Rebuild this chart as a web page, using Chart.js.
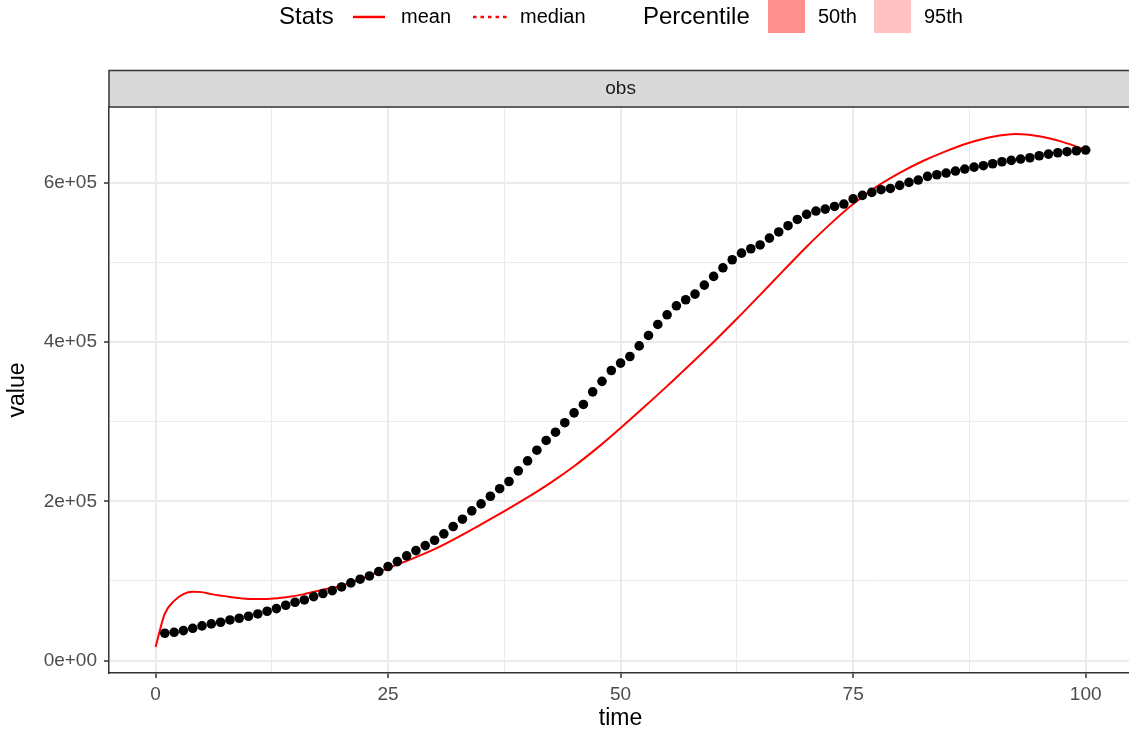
<!DOCTYPE html>
<html>
<head>
<meta charset="utf-8">
<title>obs</title>
<script src="https://cdn.jsdelivr.net/npm/chart.js@4.4.0/dist/chart.umd.min.js"></script>
<style>
  html, body { margin: 0; padding: 0; background: #ffffff; overflow: hidden; }
  #wrap { width: 1129px; height: 733px; overflow: hidden; }
  canvas { display: block; }
</style>
</head>
<body>
<div id="wrap"><canvas id="simChart" width="1137" height="733"></canvas></div>
<script>
// observed values, one per time step
const obsTime = [
  1, 2, 3, 4, 5, 6, 7, 8, 9, 10, 11, 12, 13, 14, 15, 16, 17, 18, 19, 20,
  21, 22, 23, 24, 25, 26, 27, 28, 29, 30, 31, 32, 33, 34, 35, 36, 37, 38, 39, 40,
  41, 42, 43, 44, 45, 46, 47, 48, 49, 50, 51, 52, 53, 54, 55, 56, 57, 58, 59, 60,
  61, 62, 63, 64, 65, 66, 67, 68, 69, 70, 71, 72, 73, 74, 75, 76, 77, 78, 79, 80,
  81, 82, 83, 84, 85, 86, 87, 88, 89, 90, 91, 92, 93, 94, 95, 96, 97, 98, 99, 100
];
const obsValue = [
  34400, 35600, 37700, 40600, 43600, 46100, 48200, 51100, 53200, 55700,
  58600, 62000, 65300, 69500, 73300, 76200, 80400, 84200, 87900, 92500,
  97600, 102200, 106300, 111800, 118100, 124300, 131500, 138100, 144400, 151100,
  159100, 168300, 177500, 188000, 196700, 206300, 215800, 224800, 238200, 250700,
  264100, 276300, 286700, 298600, 311000, 321500, 337300, 350500, 364100, 373400,
  381700, 395000, 408100, 421900, 434000, 445300, 452900, 460000, 471300, 482200,
  493000, 503100, 511400, 516900, 521700, 530300, 538000, 545800, 553700, 560000,
  564200, 566700, 570000, 573000, 579500, 583900, 587600, 591000, 592600, 596400,
  600200, 603100, 607700, 609800, 611900, 614400, 616900, 619400, 621100, 623600,
  626100, 627800, 629500, 631100, 633600, 635700, 637400, 638700, 639900, 640800
];

// simulated mean
const meanTime = [0, 1, 2, 3, 4, 5, 6, 8, 10, 12, 14, 16, 18, 20, 25, 30, 35,
  40, 42.5, 45, 47.5, 50, 52.5, 55, 57.5, 60, 62.5, 65, 67.5, 70, 72.5, 75, 77.5,
  80, 82.5, 85, 87.5, 90, 92.5, 95, 97.5, 100];
const meanValue = [17000, 59000, 75000, 83500, 86500, 86000, 83500, 80000, 77500, 77300,
  79600, 83500, 89000, 94000, 116000, 140000, 171000,
  205000, 223500, 244000, 267000, 292000, 318000, 344500, 372000, 400000, 429000,
  459000, 489500, 519500, 547500, 573000, 594500,
  612000, 627000, 639500, 650000, 657500, 661000, 658000, 651000, 641000];

// axis breaks
const xMajor = [0, 25, 50, 75, 100];
const xMinor = [12.5, 37.5, 62.5, 87.5];
const xTickLabels = ['0', '25', '50', '75', '100'];
const yMajor = [0, 200000, 400000, 600000];
const yMinor = [100000, 300000, 500000];
const yTickLabels = ['0e+00', '2e+05', '4e+05', '6e+05'];

const FONT = '"Liberation Sans", Arial, Helvetica, sans-serif';
const INK = '#333333';

function breaks(major, minor) {
  return major.concat(minor).sort((a, b) => a - b).map(v => ({ value: v }));
}

function tickLabel(major, labels) {
  return function (value) {
    const i = major.indexOf(value);
    return i >= 0 ? labels[i] : '';
  };
}

// grey facet strip above the panel plus the legend row at the top
const stripAndLegend = {
  id: 'stripAndLegend',
  afterDraw(chart) {
    const ctx = chart.ctx;
    const area = chart.chartArea;
    ctx.save();

    // strip
    ctx.fillStyle = '#D9D9D9';
    ctx.fillRect(area.left, 70, area.right - area.left, area.top - 70);
    ctx.strokeStyle = INK;
    ctx.lineWidth = 1.5;
    ctx.strokeRect(area.left, 70.5, area.right - area.left, area.top - 70.5);
    ctx.fillStyle = '#1A1A1A';
    ctx.font = '19px ' + FONT;
    ctx.textAlign = 'center';
    ctx.textBaseline = 'middle';
    ctx.fillText('obs', (area.left + area.right) / 2, 89);

    // legend
    const cy = 17;
    ctx.textAlign = 'left';
    ctx.fillStyle = '#000000';
    ctx.font = '24px ' + FONT;
    ctx.fillText('Stats', 279, cy);
    ctx.fillText('Percentile', 643, cy);

    ctx.strokeStyle = '#FF0000';
    ctx.lineWidth = 2.5;
    ctx.beginPath();
    ctx.moveTo(353, cy);
    ctx.lineTo(385, cy);
    ctx.stroke();

    ctx.setLineDash([3.5, 4]);
    ctx.beginPath();
    ctx.moveTo(473, cy);
    ctx.lineTo(507, cy);
    ctx.stroke();
    ctx.setLineDash([]);

    ctx.fillStyle = '#FF8F8F';
    ctx.fillRect(768, 0, 37, 33);
    ctx.fillStyle = '#FFC1C1';
    ctx.fillRect(874, 0, 37, 33);

    ctx.fillStyle = '#000000';
    ctx.font = '20px ' + FONT;
    ctx.fillText('mean', 401, cy);
    ctx.fillText('median', 520, cy);
    ctx.fillText('50th', 818, cy);
    ctx.fillText('95th', 924, cy);

    ctx.restore();
  }
};

const gridFor = (major) => ({
  color: '#EBEBEB',
  lineWidth: c => (c.tick && major.includes(c.tick.value)) ? 2 : 1,
  tickLength: 5,
  tickWidth: 1.5,
  tickColor: c => (c.tick && major.includes(c.tick.value)) ? INK : 'rgba(0,0,0,0)'
});

new Chart(document.getElementById('simChart'), {
  type: 'scatter',
  data: {
    datasets: [
      {
        label: 'obs',
        data: obsTime.map((t, i) => ({ x: t, y: obsValue[i] })),
        backgroundColor: '#000000',
        borderWidth: 0,
        pointRadius: 4.8,
        order: 0
      },
      {
        type: 'line',
        label: 'mean',
        data: meanTime.map((t, i) => ({ x: t, y: meanValue[i] })),
        borderColor: '#FF0000',
        borderWidth: 2,
        pointRadius: 0,
        cubicInterpolationMode: 'monotone',
        fill: false,
        order: 1
      }
    ]
  },
  options: {
    responsive: false,
    animation: false,
    layout: { padding: { top: 107, right: 1, left: 0, bottom: 0 } },
    plugins: {
      legend: { display: false },
      tooltip: { enabled: false }
    },
    scales: {
      x: {
        type: 'linear',
        min: -5,
        max: 105,
        afterBuildTicks: s => { s.ticks = breaks(xMajor, xMinor); },
        afterFit: s => { s.height = 60; },
        ticks: {
          callback: tickLabel(xMajor, xTickLabels),
          color: '#4D4D4D',
          font: { family: FONT, size: 19 },
          padding: 5,
          maxRotation: 0,
          autoSkip: false
        },
        grid: gridFor(xMajor),
        border: { color: INK, width: 1.5 },
        title: {
          display: true,
          text: 'time',
          color: '#000000',
          font: { family: FONT, size: 23 },
          padding: { top: 0, bottom: 1 }
        }
      },
      y: {
        type: 'linear',
        min: -15500,
        max: 694800,
        afterBuildTicks: s => { s.ticks = breaks(yMajor, yMinor); },
        afterFit: s => { s.width = 109; },
        ticks: {
          callback: tickLabel(yMajor, yTickLabels),
          color: '#4D4D4D',
          font: { family: FONT, size: 19 },
          padding: 7,
          autoSkip: false
        },
        grid: gridFor(yMajor),
        border: { color: INK, width: 1.5 },
        title: {
          display: true,
          text: 'value',
          color: '#000000',
          font: { family: FONT, size: 23 },
          padding: { top: 4, bottom: 0 }
        }
      }
    }
  },
  plugins: [stripAndLegend]
});
</script>
</body>
</html>
